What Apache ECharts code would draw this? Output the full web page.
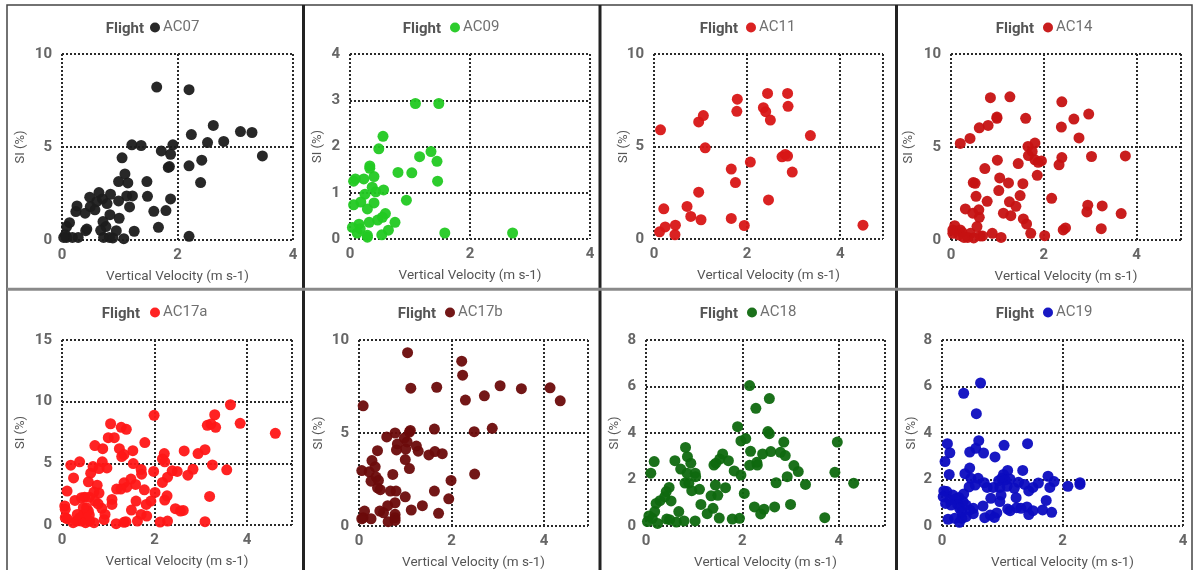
<!DOCTYPE html>
<html>
<head>
<meta charset="utf-8">
<title>SI vs Vertical Velocity by flight</title>
<script src="https://cdn.jsdelivr.net/npm/echarts@6/dist/echarts.min.js"></script>
<style>
  html, body { margin: 0; padding: 0; background: #ffffff; }
  #chart { width: 1195px; height: 570px; }
</style>
</head>
<body>
<div id="chart"></div>
<script>
// Flight names, marker colours and axis ranges, one entry per panel
const flights = ['AC07', 'AC09', 'AC11', 'AC14', 'AC17a', 'AC17b', 'AC18', 'AC19'];
const colors = ['#1c1c1c', '#22c922', '#d81616', '#c61212', '#ff1717', '#6c0b0b', '#0f690f', '#0c0cc0'];
const xMax = [4, 4, 4.92, 4.96, 4.97, 4.95, 4.96, 4];
const yMax = [10, 4, 10, 10, 15, 10, 8, 8];
const yInterval = [5, 1, 5, 5, 5, 5, 2, 2];
const xInterval = 2;

// [vertical velocity (m s-1), SI (%)]
const ac07 = [
  [1.64, 8.22], [2.20, 8.08], [2.62, 6.16], [2.24, 5.67], [2.52, 5.24], [2.80, 5.30], [3.09, 5.83],
  [3.29, 5.78], [3.47, 4.52], [2.42, 4.29], [2.20, 3.99], [2.40, 3.09], [2.20, 0.20], [1.92, 5.12],
  [1.72, 4.79], [1.88, 4.61], [1.86, 3.95], [1.84, 3.90], [1.88, 2.21], [1.80, 1.58], [1.59, 1.54],
  [1.67, 0.68], [1.47, 3.14], [1.48, 2.35], [1.21, 5.12], [1.37, 5.08], [1.04, 4.42], [1.09, 3.55],
  [0.98, 3.14], [1.14, 3.07], [1.12, 2.37], [1.22, 2.37], [1.17, 1.78], [0.98, 2.10], [0.99, 1.17],
  [0.94, 0.50], [1.25, 0.47], [1.07, 0.07], [0.88, 0.11], [0.84, 2.46], [0.78, 1.96], [0.83, 1.36],
  [0.71, 0.99], [0.76, 0.72], [0.67, 0.52], [0.72, 0.14], [0.82, 0.14], [0.64, 2.55], [0.70, 2.21],
  [0.60, 2.06], [0.57, 1.62], [0.49, 1.80], [0.48, 2.30], [0.40, 1.44], [0.43, 0.59], [0.41, 0.50],
  [0.26, 1.83], [0.24, 1.53], [0.13, 0.93], [0.08, 0.72], [0.06, 0.27], [0.08, 0.14], [0.18, 0.14],
  [0.28, 0.14], [0.03, 0.14]
];
const ac09 = [
  [1.09, 2.93], [1.48, 2.93], [0.55, 2.22], [0.48, 1.95], [1.35, 1.89], [1.16, 1.78], [1.45, 1.68],
  [1.46, 1.25], [0.80, 1.44], [1.03, 1.43], [0.94, 0.84], [0.33, 1.58], [0.33, 1.53], [0.40, 1.35],
  [0.37, 1.12], [0.43, 1.02], [0.56, 1.06], [0.23, 1.30], [0.09, 1.30], [0.06, 1.25], [0.25, 0.97],
  [0.18, 0.80], [0.40, 0.78], [0.29, 0.65], [0.06, 0.74], [0.59, 0.55], [0.54, 0.47], [0.46, 0.41],
  [0.32, 0.36], [0.75, 0.36], [0.64, 0.19], [0.53, 0.09], [0.29, 0.08], [0.29, 0.04], [0.15, 0.32],
  [0.17, 0.22], [0.12, 0.13], [0.04, 0.25], [1.58, 0.13], [2.71, 0.13]
];
const ac11 = [
  [0.14, 5.90], [0.21, 1.63], [0.24, 0.65], [0.12, 0.39], [0.45, 0.23], [0.46, 0.75], [0.71, 1.76],
  [0.79, 1.22], [0.96, 2.53], [1.01, 1.04], [0.96, 6.33], [1.06, 6.67], [1.10, 4.93], [1.66, 3.78],
  [1.75, 3.05], [1.66, 1.11], [1.94, 0.73], [1.79, 7.56], [1.78, 6.90], [2.07, 4.16], [2.35, 7.10],
  [2.40, 6.88], [2.44, 7.87], [2.50, 6.43], [2.46, 2.11], [2.75, 4.44], [2.82, 4.57], [2.87, 4.48],
  [2.87, 7.87], [2.88, 7.17], [2.97, 3.62], [3.36, 5.59], [4.49, 0.75]
];
const ac14 = [
  [0.85, 7.65], [1.27, 7.70], [0.99, 6.54], [0.99, 6.61], [1.61, 6.54], [0.80, 6.16], [0.61, 6.03],
  [0.41, 5.46], [0.20, 5.19], [2.39, 7.43], [2.65, 6.50], [2.97, 6.77], [2.76, 5.49], [2.38, 6.07],
  [2.39, 4.43], [2.33, 4.04], [3.03, 4.49], [3.76, 4.52], [1.81, 5.21], [1.66, 5.03], [1.75, 4.76],
  [1.67, 4.54], [1.81, 4.31], [1.88, 4.18], [1.95, 4.25], [1.45, 4.11], [1.00, 4.29], [1.86, 3.48],
  [1.55, 3.03], [1.05, 3.34], [1.24, 3.07], [0.73, 3.84], [0.48, 3.09], [0.52, 3.05], [1.03, 2.66],
  [0.54, 2.35], [1.49, 2.39], [0.78, 2.08], [1.26, 2.05], [1.40, 1.81], [2.17, 2.24], [2.95, 1.87],
  [3.26, 1.83], [2.93, 1.51], [3.67, 1.42], [0.31, 1.67], [0.60, 1.62], [0.61, 1.22], [0.47, 1.44],
  [1.13, 1.44], [1.29, 1.31], [1.56, 1.13], [1.63, 0.86], [1.72, 0.36], [2.02, 0.23], [2.42, 0.54],
  [2.47, 0.65], [3.24, 0.61], [0.89, 0.36], [1.08, 0.14], [0.56, 0.72], [0.08, 0.77], [0.04, 0.54],
  [0.20, 0.54], [0.24, 0.41], [0.17, 0.27], [0.42, 0.36], [0.36, 0.14], [0.63, 0.22], [0.68, 0.22],
  [0.49, 0.11], [0.04, 0.36], [0.28, 0.14]
];
const ac17a = [
  [3.64, 9.75], [3.30, 8.94], [3.85, 8.24], [3.14, 8.08], [3.22, 8.19], [3.32, 7.92], [4.61, 7.43],
  [3.09, 6.11], [2.94, 5.79], [2.64, 6.01], [3.25, 4.87], [3.56, 4.47], [2.83, 4.52], [2.72, 4.04],
  [2.49, 4.34], [2.38, 4.39], [2.28, 3.88], [2.21, 5.79], [2.17, 5.36], [2.22, 5.12], [2.17, 3.45],
  [2.01, 2.64], [2.22, 2.02], [2.27, 2.37], [3.19, 2.32], [2.45, 1.32], [2.56, 1.13], [2.62, 1.18],
  [2.28, 0.32], [2.12, 0.24], [3.09, 0.27], [1.99, 8.89], [1.98, 4.34], [1.92, 1.94], [1.79, 6.68],
  [1.71, 4.50], [1.72, 4.12], [1.78, 2.85], [1.82, 1.67], [1.71, 0.86], [1.83, 0.73], [1.63, 0.32],
  [1.53, 6.03], [1.54, 4.98], [1.59, 3.29], [1.60, 1.94], [1.49, 3.72], [1.40, 3.07], [1.34, 3.42],
  [1.27, 2.91], [1.18, 2.91], [1.50, 1.21], [1.28, 7.92], [1.39, 7.76], [1.05, 8.21], [1.00, 7.08],
  [1.13, 7.08], [1.24, 6.19], [1.29, 5.55], [1.34, 5.71], [1.08, 2.07], [1.08, 1.67], [1.17, 0.11],
  [1.34, 0.22], [1.38, 0.27], [0.97, 4.63], [0.87, 5.12], [0.88, 6.19], [0.71, 6.44], [0.67, 4.74],
  [0.80, 4.58], [0.62, 4.20], [0.86, 1.35], [0.93, 0.86], [0.91, 0.43], [0.76, 3.23], [0.80, 2.59],
  [0.69, 2.67], [0.57, 3.50], [0.71, 1.94], [0.78, 1.72], [0.38, 5.12], [0.19, 4.85], [0.25, 3.82],
  [0.11, 2.75], [0.06, 1.54], [0.07, 1.27], [0.07, 0.59], [0.11, 0.51], [0.28, 1.99], [0.42, 2.21],
  [0.49, 2.26], [0.59, 2.26], [0.53, 1.40], [0.57, 1.13], [0.46, 0.86], [0.31, 0.32], [0.42, 0.32],
  [0.51, 0.59], [0.60, 0.32], [0.69, 0.19], [0.38, 0.59], [0.51, 0.19], [0.24, 0.19], [0.59, 0.81],
  [0.46, 1.40], [0.33, 0.86]
];
const ac17b = [
  [1.05, 9.32], [2.22, 8.86], [2.24, 8.11], [3.05, 7.54], [3.51, 7.38], [4.13, 7.43], [4.35, 6.73],
  [2.71, 7.00], [2.30, 6.77], [1.12, 7.41], [1.68, 7.46], [0.09, 6.46], [2.88, 5.25], [2.49, 5.07],
  [2.50, 2.79], [1.99, 2.45], [1.63, 5.21], [1.11, 5.14], [1.09, 5.05], [0.78, 5.00], [0.60, 4.79],
  [0.98, 4.73], [1.04, 4.52], [0.83, 4.41], [1.24, 4.30], [1.01, 4.14], [0.81, 4.09], [1.28, 4.02],
  [0.40, 4.05], [1.64, 4.00], [1.80, 3.89], [1.51, 3.82], [1.00, 3.57], [1.09, 3.09], [0.28, 3.52],
  [0.35, 3.18], [0.06, 2.98], [0.22, 2.91], [0.73, 2.77], [0.37, 2.63], [0.42, 2.45], [0.26, 2.41],
  [0.40, 2.05], [0.46, 1.95], [0.68, 1.88], [0.80, 1.88], [1.63, 1.88], [1.00, 1.57], [1.94, 1.46],
  [0.78, 1.25], [1.37, 1.09], [0.62, 1.09], [1.13, 0.86], [0.45, 0.80], [0.53, 0.71], [0.12, 0.80],
  [1.72, 0.68], [0.78, 0.63], [0.78, 0.45], [0.09, 0.45], [0.26, 0.39], [0.06, 0.39], [0.63, 0.23],
  [0.78, 0.30]
];
const ac18 = [
  [2.15, 6.04], [2.56, 5.48], [2.28, 5.06], [1.90, 4.27], [2.53, 4.06], [2.56, 3.97], [2.07, 3.76],
  [1.97, 3.66], [2.86, 3.61], [3.97, 3.61], [2.17, 3.21], [2.59, 3.20], [2.42, 3.10], [2.79, 3.17],
  [2.89, 3.03], [2.15, 2.61], [2.30, 2.74], [2.31, 2.62], [3.07, 2.60], [3.16, 2.34], [2.93, 2.12],
  [3.92, 2.31], [4.31, 1.84], [3.31, 1.79], [2.70, 1.86], [2.04, 1.40], [3.00, 0.93], [2.67, 0.82],
  [2.25, 0.82], [2.45, 0.72], [2.38, 0.52], [3.71, 0.36], [1.97, 2.19], [1.83, 2.37], [1.71, 2.81],
  [1.59, 3.10], [1.53, 2.88], [1.45, 2.70], [1.41, 2.62], [1.65, 1.65], [1.44, 1.76], [1.49, 1.32],
  [1.35, 1.30], [1.39, 0.76], [1.27, 0.53], [1.52, 0.34], [1.79, 0.30], [1.94, 0.33], [1.11, 1.58],
  [1.14, 0.93], [1.02, 0.22], [1.02, 2.27], [1.03, 2.12], [0.93, 2.70], [0.86, 2.98], [0.82, 3.38],
  [0.85, 2.27], [0.81, 1.85], [0.89, 1.84], [0.95, 1.52], [0.72, 2.45], [0.60, 2.81], [0.68, 0.62],
  [0.79, 0.22], [0.63, 0.17], [0.52, 1.08], [0.48, 1.66], [0.42, 1.48], [0.39, 1.26], [0.43, 0.30],
  [0.49, 0.27], [0.29, 1.09], [0.21, 0.97], [0.17, 2.77], [0.10, 2.27], [0.18, 0.62], [0.13, 0.33],
  [0.06, 0.43], [0.24, 0.11], [0.03, 0.19]
];
const ac19 = [
  [0.64, 6.15], [0.36, 5.71], [0.57, 4.83], [0.61, 3.67], [0.09, 3.54], [1.03, 3.47], [1.42, 3.54],
  [0.56, 3.34], [0.46, 3.18], [0.13, 3.15], [0.69, 3.14], [0.88, 2.97], [0.05, 2.77], [0.46, 2.49],
  [0.12, 2.22], [0.38, 2.25], [1.09, 2.39], [1.34, 2.39], [1.02, 2.22], [0.48, 2.05], [0.60, 2.05],
  [0.55, 1.76], [0.45, 1.68], [0.70, 1.86], [0.75, 1.66], [0.85, 1.66], [0.94, 1.95], [0.99, 2.05],
  [1.05, 1.98], [1.13, 2.02], [0.96, 1.66], [1.08, 1.71], [1.20, 1.62], [1.27, 1.88], [1.37, 1.79],
  [1.44, 1.51], [1.51, 1.66], [1.60, 1.85], [1.76, 2.14], [1.79, 1.66], [1.86, 1.91], [2.09, 1.71],
  [2.29, 1.86], [2.29, 1.79], [1.73, 1.10], [1.23, 1.22], [0.98, 1.33], [0.81, 1.19], [0.96, 1.05],
  [0.68, 0.86], [1.09, 0.73], [1.13, 0.66], [1.24, 0.79], [1.31, 0.76], [1.41, 0.82], [1.51, 0.66],
  [1.44, 0.49], [1.67, 0.69], [1.82, 0.59], [0.91, 0.56], [0.80, 0.47], [0.71, 0.36], [0.87, 0.37],
  [0.52, 0.76], [0.52, 0.53], [0.46, 0.69], [0.40, 0.90], [0.35, 1.05], [0.28, 1.23], [0.36, 1.38],
  [0.18, 1.33], [0.08, 1.48], [0.03, 1.51], [0.06, 0.97], [0.13, 1.12], [0.22, 1.16], [0.26, 0.93],
  [0.29, 0.76], [0.33, 0.59], [0.33, 0.33], [0.29, 0.16], [0.21, 0.33], [0.10, 0.29], [0.40, 0.40],
  [0.02, 1.26], [0.15, 0.90]
];
const seriesData = [ac07, ac09, ac11, ac14, ac17a, ac17b, ac18, ac19];

// Panel geometry: plot rectangles, header positions and y-title offsets
const plots = [
  { left: 62,  top: 54,  width: 231, height: 186 },
  { left: 350, top: 54,  width: 240, height: 185 },
  { left: 654, top: 54,  width: 229, height: 185 },
  { left: 951, top: 54,  width: 230, height: 186 },
  { left: 62,  top: 340, width: 230, height: 185 },
  { left: 359, top: 340, width: 229, height: 186 },
  { left: 646, top: 340, width: 239, height: 186 },
  { left: 942, top: 340, width: 241, height: 186 }
];
const headerRight = [144, 441, 738, 1034, 140, 436, 738, 1034];
const headerDot = [155, 455, 751, 1048, 155, 450, 752, 1048];
const headerY = [28, 28, 28, 28, 313, 313, 313, 313];
const yNameGap = [35, 26, 24, 36, 35, 34, 25, 24];

const FONT = 'Roboto, "Open Sans", sans-serif';
const gridDots = { color: '#2a2a2a', width: 2, type: [2, 2] };

const grids = [], xAxes = [], yAxes = [], series = [], legends = [], texts = [];

flights.forEach(function (name, i) {
  grids.push(Object.assign({ outerBoundsMode: 'none', containLabel: false }, plots[i]));
  xAxes.push({
    type: 'value', gridIndex: i, min: 0, max: xMax[i], interval: xInterval,
    axisLine: { show: false }, axisTick: { show: false },
    splitLine: { show: true, lineStyle: gridDots },
    axisLabel: {
      color: '#666', fontFamily: FONT, fontWeight: 'bold', fontSize: 15, margin: 8,
      formatter: function (v) { return Math.abs(v % xInterval) < 1e-9 ? String(v) : ''; }
    },
    name: 'Vertical Velocity (m s-1)', nameLocation: 'middle', nameGap: 30,
    nameMoveOverlap: false,
    nameTextStyle: { color: '#555', fontFamily: FONT, fontSize: 13.5 }
  });
  yAxes.push({
    type: 'value', gridIndex: i, min: 0, max: yMax[i], interval: yInterval[i],
    axisLine: { show: false }, axisTick: { show: false },
    splitLine: { show: true, lineStyle: gridDots },
    axisLabel: { color: '#666', fontFamily: FONT, fontWeight: 'bold', fontSize: 15, margin: 10 },
    name: 'SI (%)', nameLocation: 'middle', nameGap: yNameGap[i],
    nameMoveOverlap: false,
    nameTextStyle: { color: '#555', fontFamily: FONT, fontSize: 13 }
  });
  series.push({
    name: name, type: 'scatter', xAxisIndex: i, yAxisIndex: i,
    data: seriesData[i], symbol: 'circle', symbolSize: 11,
    itemStyle: { color: colors[i], opacity: 0.95 },
    emphasis: { disabled: true }
  });
  legends.push({
    data: [name], left: headerDot[i] - 5, top: headerY[i] - 8, padding: 0,
    icon: 'circle', itemWidth: 10, itemHeight: 10, selectedMode: false,
    textStyle: { color: '#707070', fontFamily: FONT, fontSize: 15, padding: [0, 0, 0, -2] }
  });
  texts.push({
    type: 'text', x: headerRight[i], y: headerY[i] + 1, silent: true,
    style: {
      text: 'Flight', align: 'right', verticalAlign: 'middle',
      fill: '#555', font: 'bold 15px ' + FONT
    }
  });
});

// Panel frames: outer border, column separators and the row separator
const frames = [
  { type: 'rect', shape: { x: 7, y: 5, width: 1185, height: 580 }, style: { fill: 'none', stroke: '#444', lineWidth: 1.5 }, silent: true, z: -1 },
  { type: 'line', shape: { x1: 303.5, y1: 5, x2: 303.5, y2: 570 }, style: { stroke: '#222', lineWidth: 3 }, silent: true },
  { type: 'line', shape: { x1: 600, y1: 5, x2: 600, y2: 570 }, style: { stroke: '#222', lineWidth: 3 }, silent: true },
  { type: 'line', shape: { x1: 896.5, y1: 5, x2: 896.5, y2: 570 }, style: { stroke: '#222', lineWidth: 3 }, silent: true },
  { type: 'line', shape: { x1: 7, y1: 289.3, x2: 1192, y2: 289.3 }, style: { stroke: '#8a8a8a', lineWidth: 3 }, silent: true }
];

const chart = echarts.init(document.getElementById('chart'), null, { renderer: 'canvas' });
chart.setOption({
  backgroundColor: '#ffffff',
  animation: false,
  grid: grids,
  xAxis: xAxes,
  yAxis: yAxes,
  legend: legends,
  series: series,
  graphic: frames.concat(texts)
});
</script>
</body>
</html>
